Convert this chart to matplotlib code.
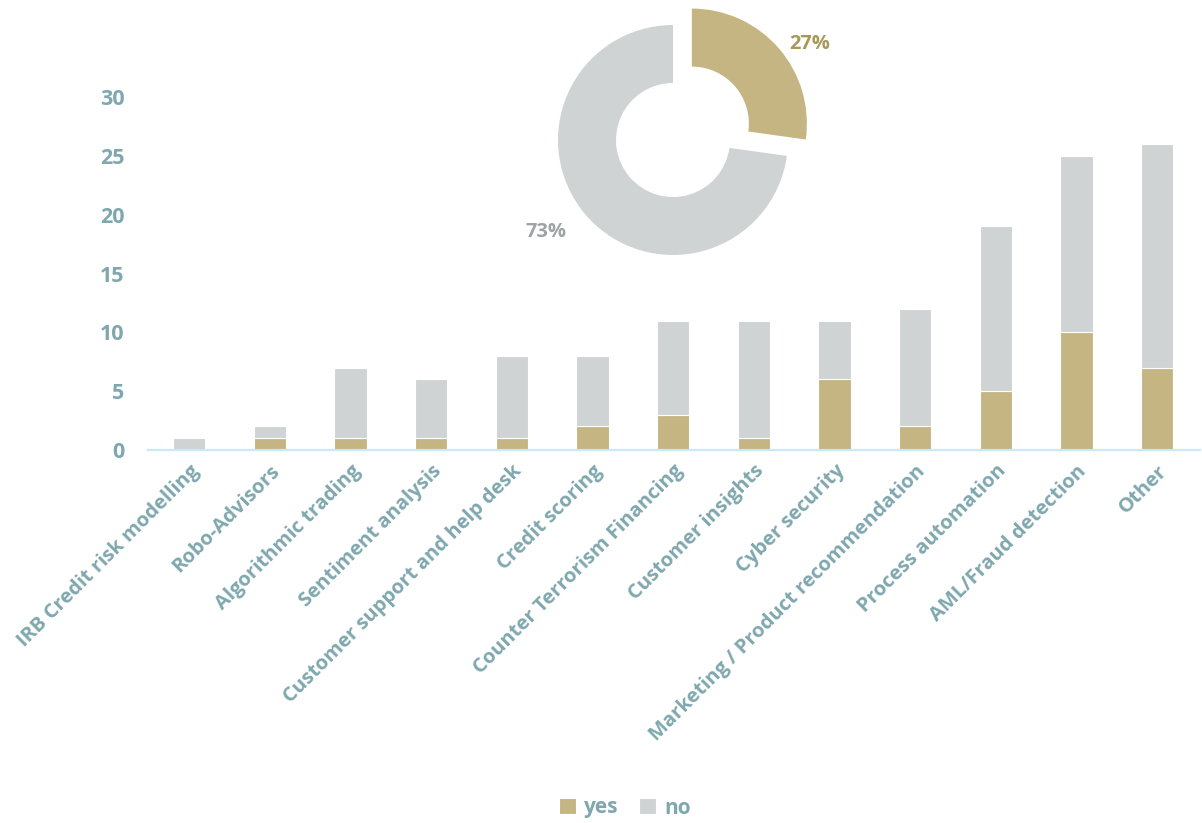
import numpy as np
import matplotlib.pyplot as plt

categories = ["IRB Credit risk modelling", "Robo-Advisors", "Algorithmic trading",
              "Sentiment analysis", "Customer support and help desk", "Credit scoring",
              "Counter Terrorism Financing", "Customer insights", "Cyber security",
              "Marketing / Product recommendation", "Process automation",
              "AML/Fraud detection", "Other"]
yes_vals = [0, 1, 1, 1, 1, 2, 3, 1, 6, 2, 5, 10, 7]
no_vals = [1, 1, 6, 5, 7, 6, 8, 10, 5, 10, 14, 15, 19]
yticks = [0, 5, 10, 15, 20, 25, 30]

gold = "#c4b582"
grey = "#d0d3d4"
teal = "#7fa7ae"

plt.rcParams['font.family'] = ['Open Sans', 'DejaVu Sans']
plt.rcParams['font.weight'] = 'bold'

fig = plt.figure(figsize=(12.02, 8.23), dpi=100)
W, H = 1202, 823

# stacked bars
ax = fig.add_axes([148 / W, 1 - 450 / H, (1200 - 148) / W, (450 - 97) / H])
x = np.arange(len(categories))
ax.bar(x, yes_vals, width=0.4, color=gold, edgecolor="white", linewidth=0.8, label="yes")
ax.bar(x, no_vals, width=0.4, bottom=yes_vals, color=grey, edgecolor="white", linewidth=0.8, label="no")
ax.set_xlim(-0.51, 12.53)
ax.set_ylim(0, 30)
ax.set_yticks(yticks)
ax.set_yticklabels([str(v) for v in yticks], fontsize=15.5, color=teal, fontweight='bold')
ax.set_xticks(x)
ax.set_xticklabels(categories, rotation=45, ha='right', rotation_mode='anchor',
                   fontsize=14.5, color=teal, fontweight='bold')
ax.tick_params(axis='both', length=0)
ax.tick_params(axis='y', pad=17)
ax.tick_params(axis='x', pad=8)
for s in ['top', 'right', 'left']:
    ax.spines[s].set_visible(False)
ax.spines['bottom'].set_color("#c6ebf6")
ax.spines['bottom'].set_linewidth(1.6)

leg = fig.legend(loc='center', bbox_to_anchor=(625 / W, 1 - 808 / H), ncol=2, frameon=False,
                 fontsize=15, handlelength=0.8, handleheight=0.8, handletextpad=0.4,
                 columnspacing=1.0)
for t in leg.get_texts():
    t.set_color(teal)
    t.set_fontweight('bold')

# donut of overall yes / no share
tot_yes = sum(yes_vals)
tot_no = sum(no_vals)
share = [tot_yes, tot_no]
pax = fig.add_axes([533 / W, 1 - 280 / H, 280 / W, 280 / H])
wedges, _ = pax.pie(share, colors=[gold, grey], startangle=90, counterclock=False,
                    radius=1.15, explode=[0.25, 0], wedgeprops=dict(width=0.58, edgecolor='none'))
pax.set_xlim(-1.4, 1.4)
pax.set_ylim(-1.4, 1.4)
pax.set_aspect('equal')
pax.axis('off')
for w in wedges:
    w.set_clip_on(False)

label_dist = [1.45, 1.55]
label_cols = ["#a8995a", "#9ea3a6"]
label_shift = [(0.08, 0.16), (-0.1, -0.1)]
for w, v, d, c, (sx, sy) in zip(wedges, share, label_dist, label_cols, label_shift):
    ang = np.deg2rad((w.theta1 + w.theta2) / 2)
    cx, cy = w.center
    pax.text(cx + d * np.cos(ang) + sx, cy + d * np.sin(ang) - sy, f"{round(100 * v / sum(share))}%",
             ha='center', va='center', fontsize=14.5, fontweight='bold', color=c, clip_on=False)

fig.savefig("out.png", dpi=100)
